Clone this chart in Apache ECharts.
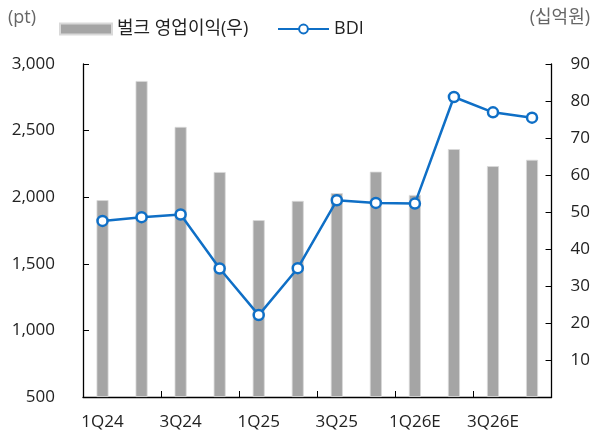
<!DOCTYPE html>
<html><head><meta charset="utf-8">
<script src="https://cdn.jsdelivr.net/npm/echarts@6/dist/echarts.min.js"></script>
<style>html,body{margin:0;padding:0;background:#fff}#c{width:593px;height:438px}</style>
</head><body><div id="c"></div>
<script>
const categories = ['1Q24','2Q24','3Q24','4Q24','1Q25','2Q25','3Q25','4Q25','1Q26E','2Q26E','3Q26E','4Q26E'];
const bulkProfit = [53.2, 85.4, 73.0, 60.8, 47.8, 53.0, 55.1, 60.9, 54.6, 67.0, 62.4, 64.1];
const bdi = [1822, 1850, 1870, 1465, 1115, 1467, 1977, 1957, 1952, 2752, 2637, 2597];
const leftTicks = {min: 500, max: 3000, interval: 500};
const rightTicks = {min: 0, max: 90, interval: 10};
const FONT = "'Open Sans','Noto Sans CJK KR',sans-serif";
const chart = echarts.init(document.getElementById('c'));
const axisLine = {show: true, lineStyle: {color: '#000', width: 1.3}};
const legendText = {fontSize: 18, color: '#222', fontFamily: FONT};
chart.setOption({
  animation: false,
  textStyle: {fontFamily: FONT, color: '#222'},
  grid: {left: 83, right: 40, top: 64, bottom: 41},
  legend: [
    {left: 54, top: 15, itemWidth: 52, itemHeight: 11, textStyle: legendText,
     data: [{name: '벌크 영업이익(우)', icon: 'rect'}]},
    {left: 272, top: 15, itemWidth: 51, itemHeight: 11, textStyle: legendText,
     data: [{name: 'BDI'}]}
  ],
  graphic: [
    {type: 'text', left: 8, top: 9, style: {text: '(pt)', fontSize: 18, fill: '#666', fontFamily: FONT}},
    {type: 'text', right: 3, top: 9, style: {text: '(십억원)', fontSize: 18, fill: '#666', fontFamily: FONT}}
  ],
  xAxis: {
    type: 'category', data: categories, boundaryGap: true,
    axisLine: axisLine,
    axisTick: {show: true, inside: true, length: 6, lineStyle: {color: '#000'}},
    axisLabel: {interval: 1, fontSize: 17, color: '#222', margin: 17}
  },
  yAxis: [
    {type: 'value', min: leftTicks.min, max: leftTicks.max, interval: leftTicks.interval,
     axisLine: axisLine, axisTick: {show: true, inside: true, length: 6, lineStyle: {color: '#000'}},
     splitLine: {show: false},
     axisLabel: {fontSize: 17, color: '#222', margin: 28,
       formatter: v => v.toLocaleString('en-US')}},
    {type: 'value', min: rightTicks.min, max: rightTicks.max, interval: rightTicks.interval, position: 'right',
     axisLine: axisLine, axisTick: {show: true, inside: true, length: 6, lineStyle: {color: '#000'}},
     splitLine: {show: false},
     axisLabel: {fontSize: 17, color: '#222', margin: 19, showMinLabel: false,
       formatter: v => v === 0 ? '' : String(v)}}
  ],
  series: [
    {name: '벌크 영업이익(우)', type: 'bar', yAxisIndex: 1, data: bulkProfit, barWidth: 12,
     itemStyle: {color: '#A5A5A5', borderColor: '#D9D9D9', borderWidth: 0.8}},
    {name: 'BDI', type: 'line', yAxisIndex: 0, data: bdi,
     symbol: 'circle', symbolSize: 10,
     lineStyle: {color: '#0F6FC6', width: 2.5},
     itemStyle: {color: '#fff', borderColor: '#0F6FC6', borderWidth: 2.5}}
  ]
});
</script></body></html>
